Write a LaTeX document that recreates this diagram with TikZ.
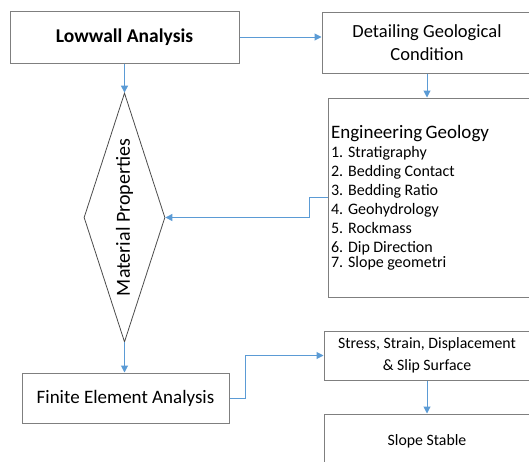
\documentclass[tikz,border=0pt]{standalone}
\usepackage{fontspec}
\setmainfont{Carlito}
\usetikzlibrary{shapes.geometric, arrows.meta, positioning, calc}
\definecolor{boxgray}{HTML}{7F7F7F}
\definecolor{flowblue}{HTML}{5B9BD5}
\tikzset{
  fc box/.style={
    rectangle, draw=boxgray, line width=1pt, fill=white,
    text centered, inner sep=2pt, align=center
  },
  fc diamond/.style={
    diamond, draw=black!70, line width=0.8pt, fill=white,
    inner sep=0pt
  },
  fc arrow/.style={
    -{Triangle[length=7pt,width=7pt]}, line width=1pt, draw=flowblue
  }
}

\begin{document}
\begin{tikzpicture}[x=1pt, y=-1pt]
  \clip (0,0) rectangle (529,461);
  \fill[white] (0,0) rectangle (529,461);

  \node (lowwall) [fc box, minimum width=229pt, minimum height=52pt,
    font=\fontsize{19.5}{22}\selectfont\bfseries] at (124.5,37) {Lowwall Analysis};
  \node (detail) [fc box, minimum width=210pt, minimum height=61pt,
    font=\fontsize{18.5}{23}\selectfont] at (427,42.5) {Detailing Geological\\Condition};
  \node (enggeo) [fc box, minimum width=202pt, minimum height=199pt,
    text width=196pt, align=left, inner xsep=3pt] at (429,197.5)
    {{\fontsize{19}{21}\selectfont Engineering Geology}\\
     \fontsize{16}{19}\selectfont
     1. Stratigraphy\\2. Bedding Contact\\3. Bedding Ratio\\4. Geohydrology\\
     5. Rockmass\\6. Dip Direction\\7. Slope geometri};
  \node (matprop) [fc diamond, minimum width=81pt, minimum height=249pt] at (124.5,217.5) {};
  \node (matlabel) [rotate=90, font=\fontsize{20}{22}\selectfont] at (matprop.center) {Material Properties};
  \node (fea) [fc box, minimum width=207pt, minimum height=50pt,
    font=\fontsize{19}{22}\selectfont] at (125.5,398) {Finite Element Analysis};
  \node (stress) [fc box, minimum width=206pt, minimum height=49pt,
    font=\fontsize{15.8}{22}\selectfont] at (427,355.5) {Stress, Strain, Displacement\\\& Slip Surface};
  \node (stable) [fc box, minimum width=206pt, minimum height=54pt,
    font=\fontsize{15.8}{19}\selectfont] at (427,441) {Slope Stable};

  \draw [fc arrow] (lowwall.east) -- (lowwall.east -| detail.west);
  \draw [fc arrow] (lowwall.south) -- (matprop.north);
  \draw [fc arrow] (detail.south) -- (detail.south |- enggeo.north);
  \draw [fc arrow] (enggeo.west) -- ++(-18,0) |- (matprop.east);
  \draw [fc arrow] (matprop.south) -- (matprop.south |- fea.north);
  \draw [fc arrow] (fea.east) -- ++(16,0) |- (stress.west);
  \draw [fc arrow] (stress.south) -- (stable.north);
\end{tikzpicture}
\end{document}
